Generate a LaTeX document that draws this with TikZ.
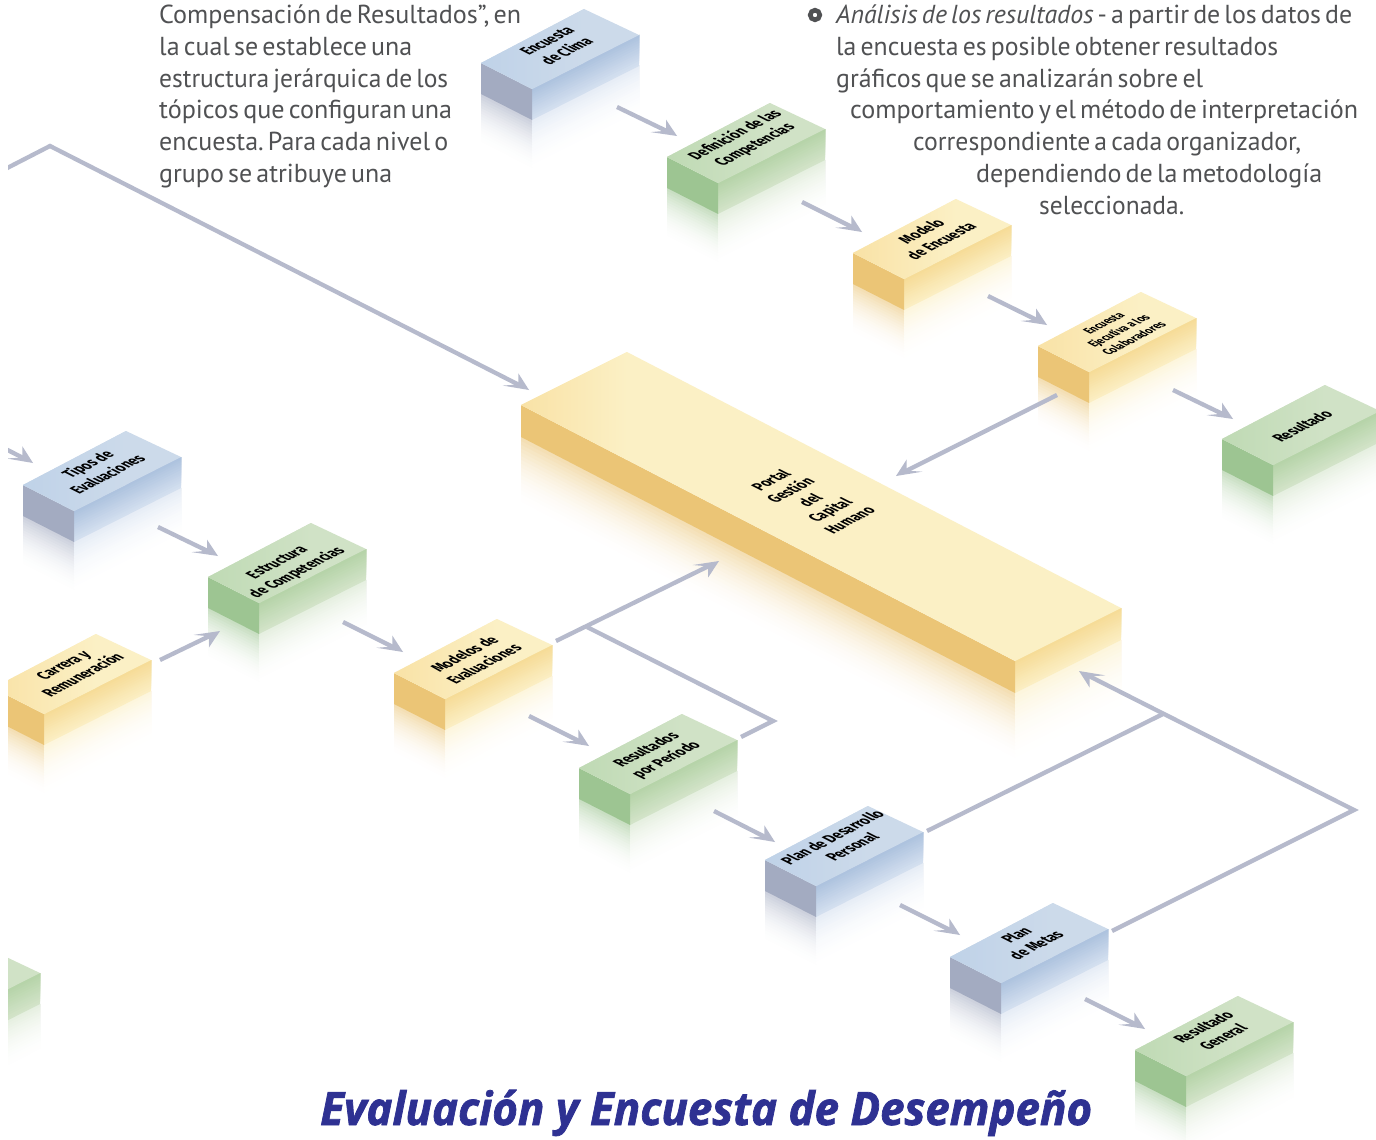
\documentclass[tikz,border=0pt]{standalone}
\usepackage{graphicx}
\usepackage{fontspec}
\setmainfont[WordSpace=0.6]{PT Sans}
\newfontfamily\lblfont{Fira Sans}
\newfontfamily\ttlfont[BoldItalicFeatures={FakeBold=1.6}]{Open Sans}
\usetikzlibrary{arrows.meta}
\frenchspacing
\definecolor{txtgrey}{HTML}{505153}
\definecolor{arrgrey}{HTML}{B6BACC}
\definecolor{navy}{HTML}{2E3192}
\definecolor{blueTopA}{HTML}{BFD2E8}\definecolor{blueTopB}{HTML}{CCDAEA}\definecolor{blueLeft}{HTML}{A3ABC1}\definecolor{blueRightA}{HTML}{AEC3DF}\definecolor{blueRightB}{HTML}{D3DFEF}
\definecolor{greenTopA}{HTML}{BFDAB4}\definecolor{greenTopB}{HTML}{D0E2C6}\definecolor{greenLeft}{HTML}{9DC592}\definecolor{greenRightA}{HTML}{B6D4A9}\definecolor{greenRightB}{HTML}{D2E3C8}
\definecolor{yellowTopA}{HTML}{F9E2A6}\definecolor{yellowTopB}{HTML}{FBF0C5}\definecolor{yellowLeft}{HTML}{EBC576}\definecolor{yellowRightA}{HTML}{F6DC98}\definecolor{yellowRightB}{HTML}{FBEEC2}
\pgfdeclarearrow{
  name=IsoA,
  setup code={\pgfarrowssettipend{0pt}\pgfarrowssetlineend{-10pt}\pgfarrowssetvisualbackend{-12pt}\pgfarrowssetbackend{-25pt}\pgfarrowshullpoint{0pt}{0pt}\pgfarrowshullpoint{-25pt}{-8pt}\pgfarrowshullpoint{-17pt}{10pt}},
  drawing code={\pgfpathmoveto{\pgfpoint{0pt}{0pt}}\pgfpathlineto{\pgfpoint{-25.5pt}{-8pt}}\pgfpathlineto{\pgfpoint{-12pt}{0pt}}\pgfpathlineto{\pgfpoint{-17pt}{10pt}}\pgfpathclose\pgfusepathqfill},
}
\pgfdeclarearrow{
  name=IsoB,
  setup code={\pgfarrowssettipend{0pt}\pgfarrowssetlineend{-10pt}\pgfarrowssetvisualbackend{-12pt}\pgfarrowssetbackend{-25pt}\pgfarrowshullpoint{0pt}{0pt}\pgfarrowshullpoint{-25pt}{8pt}\pgfarrowshullpoint{-17pt}{-10pt}},
  drawing code={\pgfpathmoveto{\pgfpoint{0pt}{0pt}}\pgfpathlineto{\pgfpoint{-25.5pt}{8pt}}\pgfpathlineto{\pgfpoint{-12pt}{0pt}}\pgfpathlineto{\pgfpoint{-17pt}{-10pt}}\pgfpathclose\pgfusepathqfill},
}
\tikzset{
  body/.style={anchor=base west,inner sep=0pt,text=txtgrey,font=\fontsize{26}{32}\selectfont},
  conn/.style={draw=arrgrey,fill=arrgrey,line width=4.3pt,line join=miter},
  line only/.style={draw=arrgrey,line width=4.3pt,line join=miter},
  seA/.style={conn,-IsoA},
  seB/.style={conn,-IsoB},
}
\newcommand{\fitw}[2]{\resizebox{#1pt}{\height}{#2}}
\def\Rextra{0}
% #1 Lx #2 Ly #3 Tx #4 Ty #5 Fx #6 Fy #7 depth #8 reflection #9 palette
\newcommand{\isoblock}[9]{%
\begin{scope}[shift={(#1,#2)}]
  \pgfmathsetmacro{\Rx}{#3+#5+\Rextra}\pgfmathsetmacro{\Ry}{#4+#6}
  \pgfmathsetmacro{\BLy}{#7}\pgfmathsetmacro{\BFy}{#6+#7}\pgfmathsetmacro{\BRy}{\Ry+#7}
  % reflections
  \foreach \i in {18,17,...,1}{
    \pgfmathsetmacro{\hh}{#8*\i/18}
    \pgfmathsetmacro{\mx}{55*(1-(\i-1)/18)*(1-(\i-1)/18)}
    \fill[#9Left!\mx!white] (0,\BLy) -- (#5,\BFy) -- (#5,\BFy+\hh) -- (0,\BLy+\hh) -- cycle;
    \fill[#9RightB!\mx!white] (#5,\BFy) -- (\Rx,\BRy) -- (\Rx,\BRy+\hh) -- (#5,\BFy+\hh) -- cycle;
  }
  % right face
  \foreach \i in {12,11,...,1}{
    \pgfmathsetmacro{\hh}{#7*\i/12}
    \pgfmathsetmacro{\mx}{100*(\i-1)/11}
    \fill[#9RightB!\mx!#9RightA] (#5,#6) -- (\Rx,\Ry) -- (\Rx,\Ry+\hh) -- (#5,#6+\hh) -- cycle;
  }
  % left face
  \fill[#9Left] (0,0) -- (#5,#6) -- (#5,\BFy) -- (0,\BLy) -- cycle;
  % top face
  \fill[#9TopB] (0,0) -- (#3,#4) -- (\Rx,\Ry) -- (#5,#6) -- cycle;
  \begin{scope}
    \clip (0,0) -- (#3,#4) -- (\Rx,\Ry) -- (#5,#6) -- cycle;
    \shade[left color=#9TopA,right color=#9TopB] (0,#4) rectangle (#3,\BFy);
  \end{scope}
\end{scope}}
\newcommand{\blabel}[5]{% name cx cy size lines
  \pgfmathsetmacro{\lsk}{#4*1.3}
  \node (#1) [transform shape,inner sep=0pt,align=center,text=black,
    font=\lblfont\bfseries\fontsize{#4}{\lsk}\selectfont,
    cm={.67,.355,-.89,.45,(#2,#3)}] {#5};}
\newcommand{\stdblock}[3]{\def\Rextra{4}\isoblock{#1}{#2}{103}{-54}{51}{26}{31}{50}{#3}\def\Rextra{0}}
\begin{document}
\begin{tikzpicture}[x=1pt,y=-1pt]
\useasboundingbox (0,0) rectangle (1376,1140);
\fill[white] (0,0) rectangle (1376,1140);
\begin{scope}
\clip (8,0) rectangle (1376,1140);
\stdblock{481}{63}{blue}
\stdblock{667}{157}{green}
\stdblock{853}{253}{yellow}
\stdblock{1038}{346}{yellow}
\stdblock{1222}{439}{green}
\stdblock{23}{485}{blue}
\stdblock{208}{577}{green}
\stdblock{-7}{688}{yellow}
\stdblock{394}{673}{yellow}
\stdblock{579}{768}{green}
\stdblock{765}{860}{blue}
\stdblock{950}{957}{blue}
\stdblock{1135}{1050}{green}
\stdblock{-118}{1001}{green}
\isoblock{521}{405}{106}{-53}{494}{256}{32}{68}{yellow}
\blabel{clima}{557}{46}{17}{Encuesta\\de Clima}
\blabel{defcomp}{745}{140}{17}{Definición de las\\Competencias}
\blabel{modelo}{931}{236}{17}{Modelo\\de Encuesta}
\blabel{ejec}{1119}{331}{13}{Encuesta\\Ejecutiva a los\\Colaboradores}
\blabel{result}{1302}{426}{17}{Resultado}
\blabel{tipos}{97}{469}{17}{Tipos de\\Evaluaciones}
\blabel{estruc}{288}{568}{17}{Estructura\\de Competencias}
\blabel{carrera}{73}{670}{17}{Carrera y\\Remuneración}
\blabel{modeval}{474}{659}{17}{Modelos de\\Evaluaciones}
\blabel{respe}{657}{755}{17}{Resultados\\por Período}
\blabel{plandes}{842}{842}{17}{Plan de Desarrollo\\Personal}
\blabel{planmet}{1026}{940}{17}{Plan\\de Metas}
\blabel{resgen}{1213}{1032}{17}{Resultado\\General}
\blabel{portal}{810}{500}{17}{Portal\\Gestión\\del\\Capital\\Humano}
% connector end points
\coordinate (a1s) at (617,107); \coordinate (a1e) at (677,136);
\coordinate (a2s) at (802,202); \coordinate (a2e) at (862,232);
\coordinate (a3s) at (988,296); \coordinate (a3e) at (1047,325);
\coordinate (a4s) at (1173,390); \coordinate (a4e) at (1233,419);
\coordinate (a5s) at (1057,395); \coordinate (a5e) at (896,476);
\coordinate (a6s) at (-20,182); \coordinate (a6m) at (50,146); \coordinate (a6e) at (529,390);
\coordinate (a7s) at (-8,442); \coordinate (a7e) at (33,463);
\coordinate (a8s) at (158,527); \coordinate (a8e) at (218,556);
\coordinate (a9s) at (160,660); \coordinate (a9e) at (220,631);
\coordinate (a10s) at (343,622); \coordinate (a10e) at (403,652);
\coordinate (a11s) at (556,641); \coordinate (a11e) at (719,561);
\coordinate (j1) at (587,627); \coordinate (j1m) at (773,721); \coordinate (j1e) at (741,737);
\coordinate (a13s) at (529,716); \coordinate (a13e) at (589,746);
\coordinate (a14s) at (714,811); \coordinate (a14e) at (775,842);
\coordinate (a15s) at (900,905); \coordinate (a15e) at (960,935);
\coordinate (a16s) at (1085,999); \coordinate (a16e) at (1145,1029);
\coordinate (a17s) at (927,831); \coordinate (j2) at (1163,714);
\coordinate (a18s) at (1112,931); \coordinate (a18m) at (1354,810); \coordinate (a18e) at (1079,671);
\draw[seA] (a1s) -- (a1e);
\draw[seA] (a2s) -- (a2e);
\draw[seA] (a3s) -- (a3e);
\draw[seA] (a4s) -- (a4e);
\draw[seB] (a5s) -- (a5e);
\draw[line only,-IsoA] (a6s) -- (a6m) -- (a6e);
\draw[seA] (a7s) -- (a7e);
\draw[seA] (a8s) -- (a8e);
\draw[seB] (a9s) -- (a9e);
\draw[seA] (a10s) -- (a10e);
\draw[seB] (a11s) -- (a11e);
\draw[line only] (j1) -- (j1m) -- (j1e);
\draw[seA] (a13s) -- (a13e);
\draw[seA] (a14s) -- (a14e);
\draw[seA] (a15s) -- (a15e);
\draw[seA] (a16s) -- (a16e);
\draw[line only] (a17s) -- (j2);
\draw[line only,-IsoA] (a18s) -- (a18m) -- (a18e);
\end{scope}
% body text
\node[body] (l1) at (159,24) {\fitw{362}{Compensación de Resultados”, en}};
\node[body] (l2) at (159,56) {\fitw{253}{la cual se establece una}};
\node[body] (l3) at (159,88) {\fitw{289}{estructura jerárquica de los}};
\node[body] (l4) at (159,118) {\fitw{293}{tópicos que configuran una}};
\node[body] (l5) at (159,150) {\fitw{289}{encuesta. Para cada nivel o}};
\node[body] (l6) at (159,182) {\fitw{233}{grupo se atribuye una}};
\node (bullet) [circle,draw=txtgrey,line width=4.6pt,minimum size=9.6pt,inner sep=0pt] at (815,15) {};
\node[body] (r1) at (836,24) {\fitw{516}{\itshape Análisis de los resultados\upshape{} - a partir de los datos de}};
\node[body] (r2) at (836,56) {\fitw{442}{la encuesta es posible obtener resultados}};
\node[body] (r3) at (836,88) {\fitw{367}{gráficos que se analizarán sobre el}};
\node[body] (r4) at (850,118) {\fitw{508}{comportamiento y el método de interpretación}};
\node[body] (r5) at (913,150) {\fitw{388}{correspondiente a cada organizador,}};
\node[body] (r6) at (976,182) {\fitw{346}{dependiendo de la metodología}};
\node[body] (r7) at (1039,214) {\fitw{145}{seleccionada.}};
\node (title) [anchor=base west,inner sep=0pt,text=navy,font=\ttlfont\bfseries\itshape\fontsize{46}{50}\selectfont] at (320,1125) {\fitw{772}{Evaluación y Encuesta de Desempeño}};
\end{tikzpicture}
\end{document}
